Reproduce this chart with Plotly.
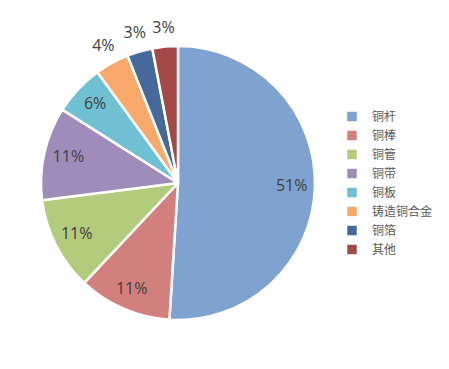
import plotly.graph_objects as go

labels = ["铜杆", "铜棒", "铜管", "铜带", "铜板", "铸造铜合金", "铜箔", "其他"]
values = [51, 11, 11, 11, 6, 4, 3, 3]
colors = ["#7FA2D0", "#D27F7D", "#B3CB7D", "#A08CBB", "#70C0D3", "#F8A86A", "#44699A", "#A34A48"]
label_radius = [0.83, 0.85, 0.83, 0.82, 0.83, 1.13, 1.13, 1.13]

# page body adds an 8px offset; figure coordinates below are in figure pixels
W, H = 441, 361
cx, cy, r = 170, 175, 137
rmax = 1.2
R = r * rmax

total = sum(values)
starts = []
acc = 0
for v in values:
    starts.append(acc)
    acc += v
mid_deg = [(s + v / 2) / total * 360 for s, v in zip(starts, values)]
width_deg = [v / total * 360 for v in values]

fig = go.Figure()
for lab, v, c, th, wd in zip(labels, values, colors, mid_deg, width_deg):
    fig.add_trace(go.Barpolar(
        r=[1], theta=[th], width=[wd], name=lab,
        marker=dict(color=c, line=dict(color="white", width=2.5)),
        hovertemplate=lab + ": %{customdata}%<extra></extra>", customdata=[v],
    ))

fig.add_trace(go.Scatterpolar(
    r=label_radius, theta=mid_deg, mode="text",
    text=[f"{v}%" for v in values],
    textfont=dict(family="Open Sans, Liberation Sans, sans-serif", size=16, color="#404040"),
    cliponaxis=False, showlegend=False, hoverinfo="skip",
))

fig.update_layout(
    width=W, height=H,
    margin=dict(l=0, r=0, t=0, b=0, autoexpand=False),
    paper_bgcolor="white",
    plot_bgcolor="white",
    showlegend=True,
    polar=dict(
        domain=dict(x=[(cx - R) / W, (cx + R) / W], y=[(H - cy - R) / H, (H - cy + R) / H]),
        bgcolor="rgba(0,0,0,0)",
        hole=0,
        radialaxis=dict(visible=False, range=[0, rmax]),
        angularaxis=dict(visible=False, direction="clockwise", rotation=90),
    ),
    legend=dict(
        x=324 / W, y=(H - 94) / H, xanchor="left", yanchor="top",
        font=dict(family="Noto Sans CJK SC, sans-serif", size=12, color="#595959"),
        itemwidth=30, tracegroupgap=0,
        bgcolor="rgba(0,0,0,0)",
    ),
)

fig.write_html("out.html")
